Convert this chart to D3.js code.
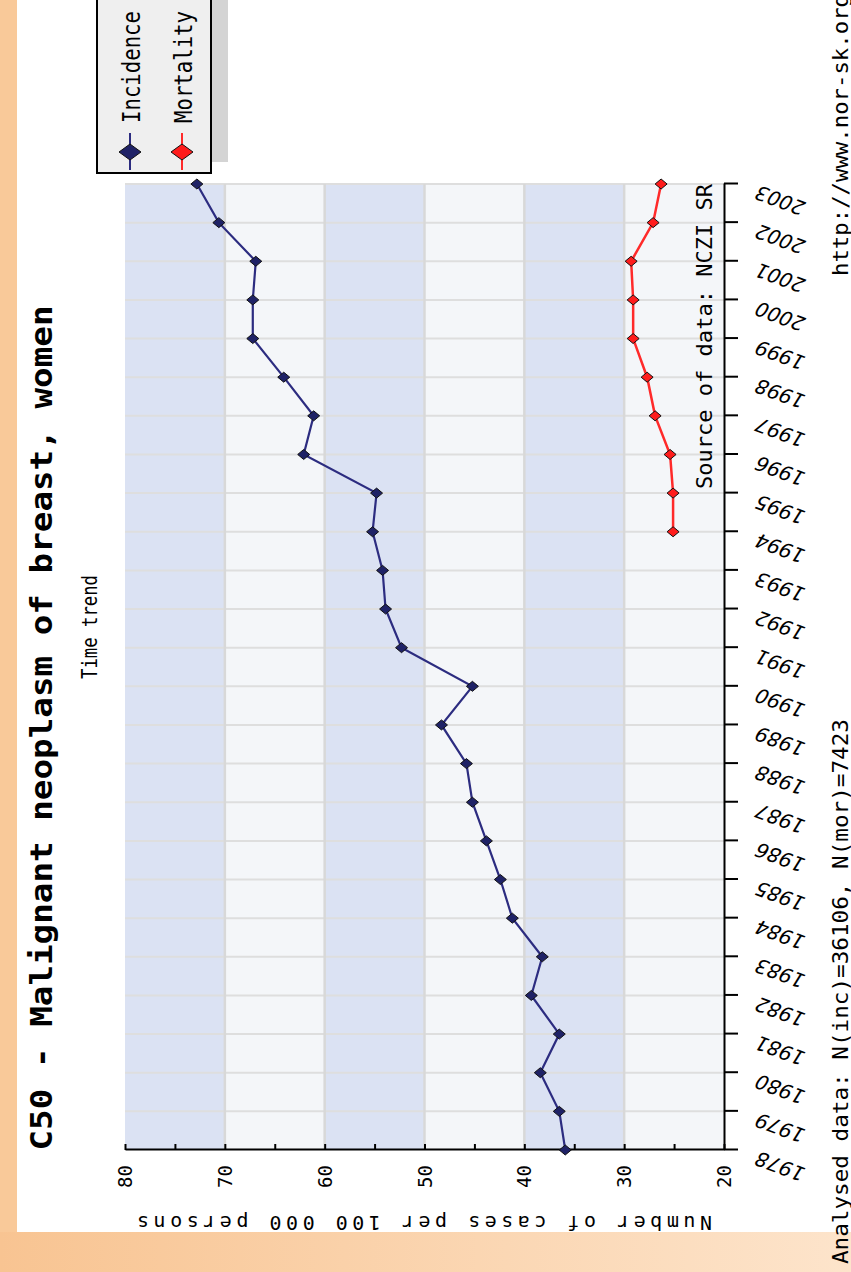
<!DOCTYPE html>
<html><head><meta charset="utf-8">
<script src="https://cdn.jsdelivr.net/npm/d3@7"></script>
<style>html,body{margin:0;padding:0;background:#fff;} svg{display:block;}</style>
</head><body>
<svg id="c" width="851" height="1272"></svg>
<script>
// ---- data ----
const titleText = "C50 - Malignant neoplasm of breast, women";
const subtitleText = "Time trend";
const yAxisTitle = "Number of cases per 100 000 persons";
const sourceText = "Source of data: NCZI SR";
const analysedText = "Analysed data: N(inc)=36106, N(mor)=7423";
const urlText = "http://www.nor-sk.org";
const seriesNames = ["Incidence", "Mortality"];
const years = [1978,1979,1980,1981,1982,1983,1984,1985,1986,1987,1988,1989,1990,1991,1992,1993,1994,1995,1996,1997,1998,1999,2000,2001,2002,2003];
const incidence = [35.9,36.5,38.4,36.5,39.3,38.2,41.2,42.4,43.8,45.2,45.8,48.3,45.2,52.3,53.9,54.2,55.2,54.8,62.1,61.1,64.1,67.2,67.2,66.9,70.6,72.8];
const mortYears = [1994,1995,1996,1997,1998,1999,2000,2001,2002,2003];
const mortality = [25.1,25.1,25.4,26.9,27.7,29.1,29.1,29.3,27.1,26.3];
const valueTicks = [20,30,40,50,60,70,80];
const minorTicks = [25,35,45,55,65,75];
const bands = [[70,80],[60,70],[50,60],[40,50],[30,40],[20,30]];

// ---- layout (chart drawn in its own frame, then turned a quarter turn) ----
const svg = d3.select("#c");
const defs = svg.append("defs");
const grad = defs.append("linearGradient").attr("id","og").attr("x1",0).attr("x2",1).attr("y1",0).attr("y2",0);
grad.append("stop").attr("offset",0).attr("stop-color","#f8c492");
grad.append("stop").attr("offset",1).attr("stop-color","#fde4cb");
svg.append("rect").attr("width",851).attr("height",1272).attr("fill","#fff");
// slide border
svg.append("rect").attr("x",0).attr("y",0).attr("width",17).attr("height",1272).attr("fill","#f9c999");
svg.append("rect").attr("x",0).attr("y",1232).attr("width",851).attr("height",40).attr("fill","url(#og)");

const g = svg.append("g").attr("transform","translate(0,1272) rotate(-90)");
const xs = d3.scaleLinear().domain([1978,2003]).range([122,1088]);
const ys = d3.scaleLinear().domain([20,80]).range([724,125]);
const mono = "'DejaVu Sans Mono', monospace";

// bands
g.selectAll("rect.band").data(bands).join("rect")
  .attr("x", xs(1978)).attr("width", xs(2003)-xs(1978))
  .attr("y", d => ys(d[1])).attr("height", d => ys(d[0]) - ys(d[1]))
  .attr("fill", (d,i) => i % 2 === 0 ? "#dbe2f3" : "#f4f6f9");
// grid
g.selectAll("line.yg").data(years.slice(1)).join("line")
  .attr("x1", d => xs(d)).attr("x2", d => xs(d)).attr("y1", ys(80)).attr("y2", ys(20))
  .attr("stroke","#dedede").attr("stroke-width",2);
g.selectAll("line.vg").data(valueTicks.slice(1,-1)).join("line")
  .attr("x1", xs(1978)).attr("x2", xs(2003)).attr("y1", d => ys(d)).attr("y2", d => ys(d))
  .attr("stroke","#d8d8d8").attr("stroke-width",2.5);

// axes
const xAxis = g.append("g").attr("transform",`translate(0,${ys(20)})`)
  .call(d3.axisBottom(xs).tickValues(years).tickSize(14).tickSizeOuter(0).tickFormat(d3.format("d")));
xAxis.select(".domain").attr("stroke","#000").attr("stroke-width",2);
xAxis.selectAll(".tick line").attr("stroke","#000").attr("stroke-width",2);
xAxis.selectAll(".tick text")
  .attr("font-family","'DejaVu Sans', sans-serif").attr("font-size",20).attr("fill","#000")
  .attr("text-anchor","end").attr("y",0).attr("dy",0)
  .attr("transform","translate(-2,36) rotate(-70) skewX(-12)");

const yAxis = g.append("g").attr("transform",`translate(${xs(1978)},0)`)
  .call(d3.axisLeft(ys).tickValues(valueTicks.concat(minorTicks)).tickSize(-6).tickSizeOuter(0)
    .tickFormat(d => valueTicks.includes(d) ? d : ""));
yAxis.select(".domain").attr("stroke","#000").attr("stroke-width",2);
yAxis.selectAll(".tick line").attr("stroke","#000").attr("stroke-width",2);
yAxis.selectAll(".tick text").attr("font-family",mono).attr("font-size",19).attr("fill","#000")
  .attr("x",-15).attr("dy","0.35em");

// lines
const diamond = "M-5,0L0,-6L5,0L0,6Z";
function series(xv, yv, lineColor, fill, lw){
  const pts = xv.map((x,i)=>[x, yv[i]]);
  g.append("path").datum(pts)
    .attr("d", d3.line().x(d=>xs(d[0])).y(d=>ys(d[1])))
    .attr("fill","none").attr("stroke",lineColor).attr("stroke-width",lw);
  g.selectAll(null).data(pts).join("path")
    .attr("transform", d=>`translate(${xs(d[0])},${ys(d[1])})`)
    .attr("d", diamond).attr("fill", fill).attr("stroke","#111").attr("stroke-width",1);
}
series(years, incidence, "#2c2c80", "#1f2266", 2.2);
series(mortYears, mortality, "#ff2a2a", "#ff1c1c", 2.5);

// titles
g.append("text").attr("x", 544).attr("y", 52).attr("text-anchor","middle")
  .attr("font-family",mono).attr("font-weight","bold").attr("font-size",30)
  .attr("textLength",845).attr("lengthAdjust","spacingAndGlyphs").text(titleText);
g.append("text").attr("x", 645).attr("y", 97).attr("text-anchor","middle")
  .attr("font-family",mono).attr("font-size",22)
  .attr("textLength",104).attr("lengthAdjust","spacingAndGlyphs").text(subtitleText);
g.append("text").attr("transform",`translate(56,${(ys(20)+ys(80))/2}) rotate(-90)`)
  .attr("text-anchor","middle").attr("font-family",mono).attr("font-size",20)
  .attr("textLength",575).attr("lengthAdjust","spacing").text(yAxisTitle);
g.append("text").attr("x", xs(2003)).attr("y", 712).attr("text-anchor","end")
  .attr("font-family",mono).attr("font-size",21)
  .attr("textLength",305).attr("lengthAdjust","spacingAndGlyphs").text(sourceText);
g.append("text").attr("x", 8).attr("y", 848)
  .attr("font-family",mono).attr("font-size",21)
  .attr("textLength",545).attr("lengthAdjust","spacingAndGlyphs").text(analysedText);
g.append("text").attr("x", 996).attr("y", 848)
  .attr("font-family",mono).attr("font-size",21)
  .attr("textLength",282).attr("lengthAdjust","spacingAndGlyphs").text(urlText);

// legend
const lg = g.append("g");
lg.append("rect").attr("x",1110).attr("y",113).attr("width",200).attr("height",115).attr("fill","#d4d4d4");
lg.append("rect").attr("x",1099).attr("y",97).attr("width",200).attr("height",114)
  .attr("fill","#efefef").attr("stroke","#000").attr("stroke-width",2);
const legColors = [["#2c2c80","#1f2266"],["#ff2a2a","#ff1c1c"]];
seriesNames.forEach((name,i)=>{
  const yy = 130 + i*52;
  lg.append("line").attr("x1",1102).attr("x2",1139).attr("y1",yy).attr("y2",yy)
    .attr("stroke",legColors[i][0]).attr("stroke-width",2);
  lg.append("path").attr("transform",`translate(1120,${yy})`).attr("d","M-8,0L0,-11L8,0L0,11Z")
    .attr("fill",legColors[i][1]).attr("stroke","#111").attr("stroke-width",1);
  lg.append("text").attr("x",1149).attr("y",yy+10).attr("font-family",mono).attr("font-size",25)
    .attr("textLength",112).attr("lengthAdjust","spacingAndGlyphs").text(name);
});
</script>
</body></html>
